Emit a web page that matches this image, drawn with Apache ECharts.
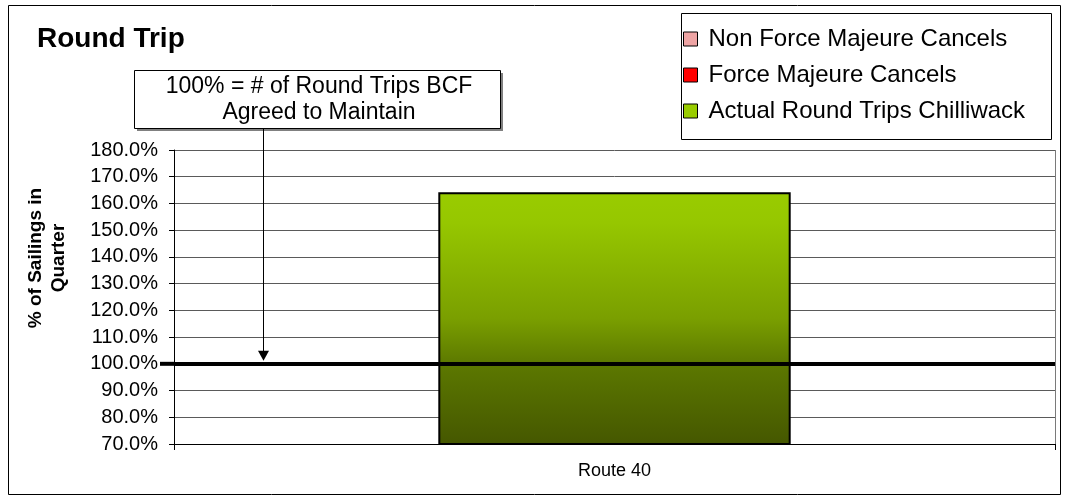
<!DOCTYPE html>
<html><head><meta charset="utf-8">
<script src="https://cdn.jsdelivr.net/npm/echarts@6/dist/echarts.min.js"></script>
<style>html,body{margin:0;padding:0;background:#fff}#c{width:1065px;height:499px}</style>
</head><body><div id="c"></div>
<script>
var categories = ['Route 40'];
var seriesNames = ['Non Force Majeure Cancels', 'Force Majeure Cancels', 'Actual Round Trips Chilliwack'];
var nonForceMajeure = [null];
var forceMajeure = [null];
var actualRoundTrips = [164.2];
var targetLine = 100;
var yMin = 70, yMax = 180, yStep = 10;
var titleText = 'Round Trip';
var yAxisTitle = ['% of Sailings in', 'Quarter'];
var noteText = ['100% = # of Round Trips BCF', 'Agreed to Maintain'];

var FONT = 'Liberation Sans, Arial, sans-serif';
var chart = echarts.init(document.getElementById('c'));
var grad = new echarts.graphic.LinearGradient(0, 0, 0, 1, [
  {offset: 0, color: '#99CC00'},
  {offset: 0.12, color: '#96c700'},
  {offset: 0.5, color: '#7a9f00'},
  {offset: 0.68, color: '#5c7800'},
  {offset: 1, color: '#455700'}
]);
var option = {
  animation: false,
  backgroundColor: '#fff',
  title: {text: titleText, left: 37, top: 25, padding: 0, textStyle: {fontFamily: FONT, fontSize: 28, fontWeight: 'bold', color: '#000'}},
  legend: {
    orient: 'vertical', left: 683, top: 27, itemWidth: 14, itemHeight: 14, itemGap: 12,
    padding: 0, icon: 'rect',
    textStyle: {fontFamily: FONT, fontSize: 24, color: '#000', padding: [0, 0, 0, 6]},
    data: [
      {name: seriesNames[0], itemStyle: {color: '#eea4a4', borderColor: '#000', borderWidth: 1}},
      {name: seriesNames[1], itemStyle: {color: '#ff0000', borderColor: '#000', borderWidth: 1}},
      {name: seriesNames[2], itemStyle: {color: '#99CC00', borderColor: '#000', borderWidth: 1}}
    ]
  },
  grid: {left: 174, right: 10, top: 150, bottom: 55, containLabel: false},
  xAxis: {
    type: 'category', data: categories,
    axisLine: {lineStyle: {color: '#000', width: 1}},
    axisTick: {show: true, length: 6, lineStyle: {color: '#000'}},
    axisLabel: {fontFamily: FONT, fontSize: 18, color: '#000', margin: 18},
    splitLine: {show: false}
  },
  yAxis: {
    type: 'value', min: yMin, max: yMax, interval: yStep,
    axisLine: {show: true, lineStyle: {color: '#000', width: 1}},
    axisTick: {show: true, length: 5, lineStyle: {color: '#000'}},
    axisLabel: {fontFamily: FONT, fontSize: 20, color: '#000', margin: 16,
      formatter: function (v) { return v.toFixed(1) + '%'; }},
    splitLine: {lineStyle: {color: '#5a5a5a', width: 1}}
  },
  series: [
    {name: seriesNames[0], type: 'bar', stack: 's', data: nonForceMajeure, itemStyle: {color: '#eea4a4'}},
    {name: seriesNames[1], type: 'bar', stack: 's', data: forceMajeure, itemStyle: {color: '#ff0000'}},
    {name: seriesNames[2], type: 'bar', stack: 's', data: actualRoundTrips, barWidth: '40%',
      itemStyle: {color: grad, borderColor: '#000', borderWidth: 2},
      markLine: {silent: true, symbol: 'none', label: {show: false},
        lineStyle: {color: '#000', width: 4, type: 'solid'},
        data: [{yAxis: targetLine}]}, z: 2}
  ]
};
chart.setOption(option);

var yTarget = chart.convertToPixel({yAxisIndex: 0}, targetLine);
var yTop = chart.convertToPixel({yAxisIndex: 0}, yMax);
var yBot = chart.convertToPixel({yAxisIndex: 0}, yMin);
chart.setOption({
  graphic: [
    {type: 'rect', shape: {x: 8.5, y: 5.5, width: 1052, height: 489}, style: {fill: null, stroke: '#000', lineWidth: 1}, z: -1, silent: true},
    {type: 'rect', shape: {x: 681.5, y: 13.5, width: 370, height: 126}, style: {fill: null, stroke: '#000', lineWidth: 1}, silent: true},
    {type: 'line', shape: {x1: 1055.5, y1: yTop, x2: 1055.5, y2: yBot}, style: {stroke: '#7a7a7a', lineWidth: 1}, silent: true},
    {type: 'line', shape: {x1: 160, y1: yTarget, x2: 174, y2: yTarget}, style: {stroke: '#000', lineWidth: 4}, silent: true},
    {type: 'rect', shape: {x: 137, y: 73, width: 366, height: 58}, style: {fill: '#808080'}, silent: true, z: 10},
    {type: 'rect', shape: {x: 134.5, y: 70.5, width: 366, height: 58}, style: {fill: '#fff', stroke: '#000', lineWidth: 1}, silent: true, z: 11},
    {type: 'text', x: 319, y: 87, style: {text: noteText[0], fontFamily: FONT, fontSize: 23, fill: '#000', align: 'center', verticalAlign: 'middle'}, z: 12, silent: true},
    {type: 'text', x: 319, y: 113, style: {text: noteText[1], fontFamily: FONT, fontSize: 23, fill: '#000', align: 'center', verticalAlign: 'middle'}, z: 12, silent: true},
    {type: 'line', shape: {x1: 263.5, y1: 129, x2: 263.5, y2: yTarget - 12}, style: {stroke: '#000', lineWidth: 1}, z: 12, silent: true},
    {type: 'polygon', shape: {points: [[258, yTarget - 13], [269, yTarget - 13], [263.5, yTarget - 3]]}, style: {fill: '#000'}, z: 12, silent: true},
    {type: 'text', x: 36, y: 258, rotation: Math.PI / 2,
      style: {text: yAxisTitle[0], fontFamily: FONT, fontSize: 19, fontWeight: 'bold', fill: '#000', align: 'center', verticalAlign: 'middle'}, silent: true},
    {type: 'text', x: 59, y: 258, rotation: Math.PI / 2,
      style: {text: yAxisTitle[1], fontFamily: FONT, fontSize: 19, fontWeight: 'bold', fill: '#000', align: 'center', verticalAlign: 'middle'}, silent: true}
  ]
});
</script></body></html>
